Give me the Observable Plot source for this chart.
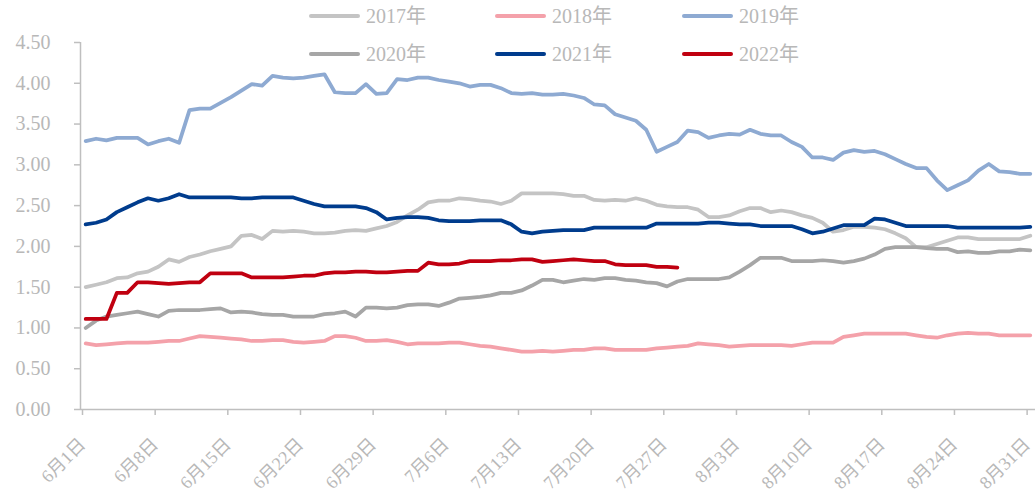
<!DOCTYPE html>
<html><head><meta charset="utf-8">
<script src="https://cdn.jsdelivr.net/npm/d3@7"></script>
<script src="https://cdn.jsdelivr.net/npm/@observablehq/plot@0.6"></script>
<style>
body{margin:0;background:#fff;}
#wrap{position:relative;width:1035px;height:501px;overflow:hidden;}
#legend{position:absolute;left:0;top:0;width:1035px;height:80px;font-family:"Liberation Serif","Noto Sans CJK SC",serif;font-size:20px;color:#b8b8b8;}
.item{position:absolute;display:flex;align-items:center;height:24px;line-height:24px;white-space:nowrap;}
.sw{width:51px;height:4px;margin-right:6px;border-radius:2px;}
</style></head><body>
<div id="wrap"><div id="chart"></div><div id="legend"></div></div>
<script>
// x categories: day index from 6月1日 (0) to 8月31日 (91)
const tickDays = [0,7,14,21,28,35,42,49,56,63,70,77,84,91];
const tickLabels = ["6月1日","6月8日","6月15日","6月22日","6月29日","7月6日","7月13日","7月20日","7月27日","8月3日","8月10日","8月17日","8月24日","8月31日"];
const yTicks = [0,0.5,1,1.5,2,2.5,3,3.5,4,4.5];

const names = ["2017年","2018年","2019年","2020年","2021年","2022年"];
const colors = ["#c4c4c4","#f4a1aa","#8eaad2","#a6a6a6","#003c8d","#c00010"];

const s2017 = [1.50,1.53,1.56,1.61,1.62,1.67,1.69,1.75,1.84,1.81,1.87,1.90,1.94,1.97,2.00,2.13,2.14,2.09,2.19,2.18,2.19,2.18,2.16,2.16,2.17,2.19,2.20,2.19,2.22,2.25,
 2.30,2.38,2.45,2.54,2.56,2.56,2.59,2.58,2.56,2.55,2.52,2.56,2.65,2.65,2.65,2.65,2.64,2.62,2.62,2.57,2.56,2.57,2.56,2.59,2.56,2.51,2.49,2.48,2.48,2.45,2.36,
 2.36,2.38,2.43,2.47,2.47,2.42,2.44,2.42,2.38,2.35,2.29,2.18,2.20,2.24,2.24,2.23,2.21,2.16,2.10,1.99,1.99,2.03,2.07,2.11,2.11,2.09,2.09,2.09,2.09,2.09,2.13];
const s2018 = [0.81,0.79,0.80,0.81,0.82,0.82,0.82,0.83,0.84,0.84,0.87,0.90,0.89,0.88,0.87,0.86,0.84,0.84,0.85,0.85,0.83,0.82,0.83,0.84,0.90,0.90,0.88,0.84,0.84,0.85,
 0.83,0.80,0.81,0.81,0.81,0.82,0.82,0.80,0.78,0.77,0.75,0.73,0.71,0.71,0.72,0.71,0.72,0.73,0.73,0.75,0.75,0.73,0.73,0.73,0.73,0.75,0.76,0.77,0.78,0.81,0.80,
 0.79,0.77,0.78,0.79,0.79,0.79,0.79,0.78,0.80,0.82,0.82,0.82,0.89,0.91,0.93,0.93,0.93,0.93,0.93,0.91,0.89,0.88,0.91,0.93,0.94,0.93,0.93,0.91,0.91,0.91,0.91];
const s2019 = [3.29,3.32,3.30,3.33,3.33,3.33,3.25,3.29,3.32,3.27,3.67,3.69,3.69,3.76,3.83,3.91,3.99,3.97,4.09,4.07,4.06,4.07,4.09,4.11,3.89,3.88,3.88,3.99,3.87,3.88,
 4.05,4.04,4.07,4.07,4.04,4.02,4.00,3.96,3.98,3.98,3.94,3.88,3.87,3.88,3.86,3.86,3.87,3.85,3.82,3.74,3.73,3.62,3.58,3.54,3.43,3.16,3.22,3.28,3.42,3.40,3.33,
 3.36,3.38,3.37,3.43,3.38,3.36,3.36,3.28,3.22,3.09,3.09,3.06,3.15,3.18,3.16,3.17,3.13,3.07,3.01,2.96,2.96,2.81,2.69,2.75,2.81,2.93,3.01,2.92,2.91,2.89,2.89];
const s2020 = [1.00,1.09,1.14,1.16,1.18,1.20,1.17,1.14,1.21,1.22,1.22,1.22,1.23,1.24,1.19,1.20,1.19,1.17,1.16,1.16,1.14,1.14,1.14,1.17,1.18,1.20,1.14,1.25,1.25,1.24,
 1.25,1.28,1.29,1.29,1.27,1.31,1.36,1.37,1.38,1.40,1.43,1.43,1.46,1.52,1.59,1.59,1.56,1.58,1.60,1.59,1.61,1.61,1.59,1.58,1.56,1.55,1.51,1.57,1.60,1.60,1.60,
 1.60,1.62,1.69,1.77,1.86,1.86,1.86,1.82,1.82,1.82,1.83,1.82,1.80,1.82,1.85,1.90,1.97,1.99,1.99,1.99,1.98,1.97,1.97,1.93,1.94,1.92,1.92,1.94,1.94,1.96,1.95];
const s2021 = [2.27,2.29,2.33,2.42,2.48,2.54,2.59,2.56,2.59,2.64,2.60,2.60,2.60,2.60,2.60,2.59,2.59,2.60,2.60,2.60,2.60,2.56,2.52,2.49,2.49,2.49,2.49,2.47,2.42,2.33,
 2.35,2.36,2.36,2.35,2.32,2.31,2.31,2.31,2.32,2.32,2.32,2.27,2.18,2.16,2.18,2.19,2.20,2.20,2.20,2.23,2.23,2.23,2.23,2.23,2.23,2.28,2.28,2.28,2.28,2.28,2.29,
 2.29,2.28,2.27,2.27,2.25,2.25,2.25,2.25,2.21,2.16,2.18,2.22,2.26,2.26,2.26,2.34,2.33,2.29,2.25,2.25,2.25,2.25,2.25,2.23,2.23,2.23,2.23,2.23,2.23,2.23,2.24];
const s2022 = [1.11,1.11,1.11,1.43,1.43,1.56,1.56,1.55,1.54,1.55,1.56,1.56,1.67,1.67,1.67,1.67,1.62,1.62,1.62,1.62,
 1.63,1.64,1.64,1.67,1.68,1.68,1.69,1.69,1.68,1.68,1.69,1.70,1.70,1.80,1.78,1.78,1.79,1.82,1.82,1.82,
 1.83,1.83,1.84,1.84,1.81,1.82,1.83,1.84,1.83,1.82,1.82,1.78,1.77,1.77,1.77,1.75,1.75,1.74];

const seriesValues = [s2017,s2018,s2019,s2020,s2021,s2022];
const rows = seriesValues.map((vals, k) => vals.map((v, i) => ({day: i + 0.5, value: v, name: names[k]})));

const axisColor = "#bfbfbf";
const chart = Plot.plot({
  width: 1035, height: 501,
  marginLeft: 80, marginRight: 0, marginTop: 42, marginBottom: 92,
  style: {fontFamily: '"Liberation Serif","Noto Sans CJK SC",serif', fontSize: "20px", color: "#b8b8b8", background: "#fff", overflow: "visible"},
  x: {domain: [0, 92], axis: null},
  y: {domain: [0, 4.5], axis: null},
  marks: [
    Plot.ruleX([0], {stroke: axisColor, strokeWidth: 1.5}),
    Plot.ruleY([0], {stroke: axisColor, strokeWidth: 1.5}),
    Plot.axisY({ticks: yTicks, tickFormat: d => d.toFixed(2), label: null, tickSize: 6, tickPadding: 24, stroke: axisColor, strokeWidth: 1.5, fill: "#b8b8b8"}),
    Plot.axisX({ticks: tickDays, tickFormat: d => tickLabels[tickDays.indexOf(d)], label: null, tickSize: 6, tickPadding: 26, tickRotate: -45, dx: 2, fontSize: 18, stroke: axisColor, strokeWidth: 1.5, fill: "#b8b8b8"}),
    ...rows.map((r, k) => Plot.line(r, {x: "day", y: "value", stroke: colors[k], strokeWidth: 3.75, strokeLinejoin: "round", strokeLinecap: "round"}))
  ]
});
document.getElementById("chart").appendChild(chart);

// legend
const legendPos = [[309,4],[495,4],[682,4],[309,42],[495,42],[682,42]];
const leg = document.getElementById("legend");
names.forEach((n, k) => {
  const it = document.createElement("div");
  it.className = "item";
  it.style.left = legendPos[k][0] + "px";
  it.style.top = legendPos[k][1] + "px";
  it.innerHTML = `<span class="sw" style="background:${colors[k]}"></span><span>${n}</span>`;
  leg.appendChild(it);
});
</script>
</body></html>
